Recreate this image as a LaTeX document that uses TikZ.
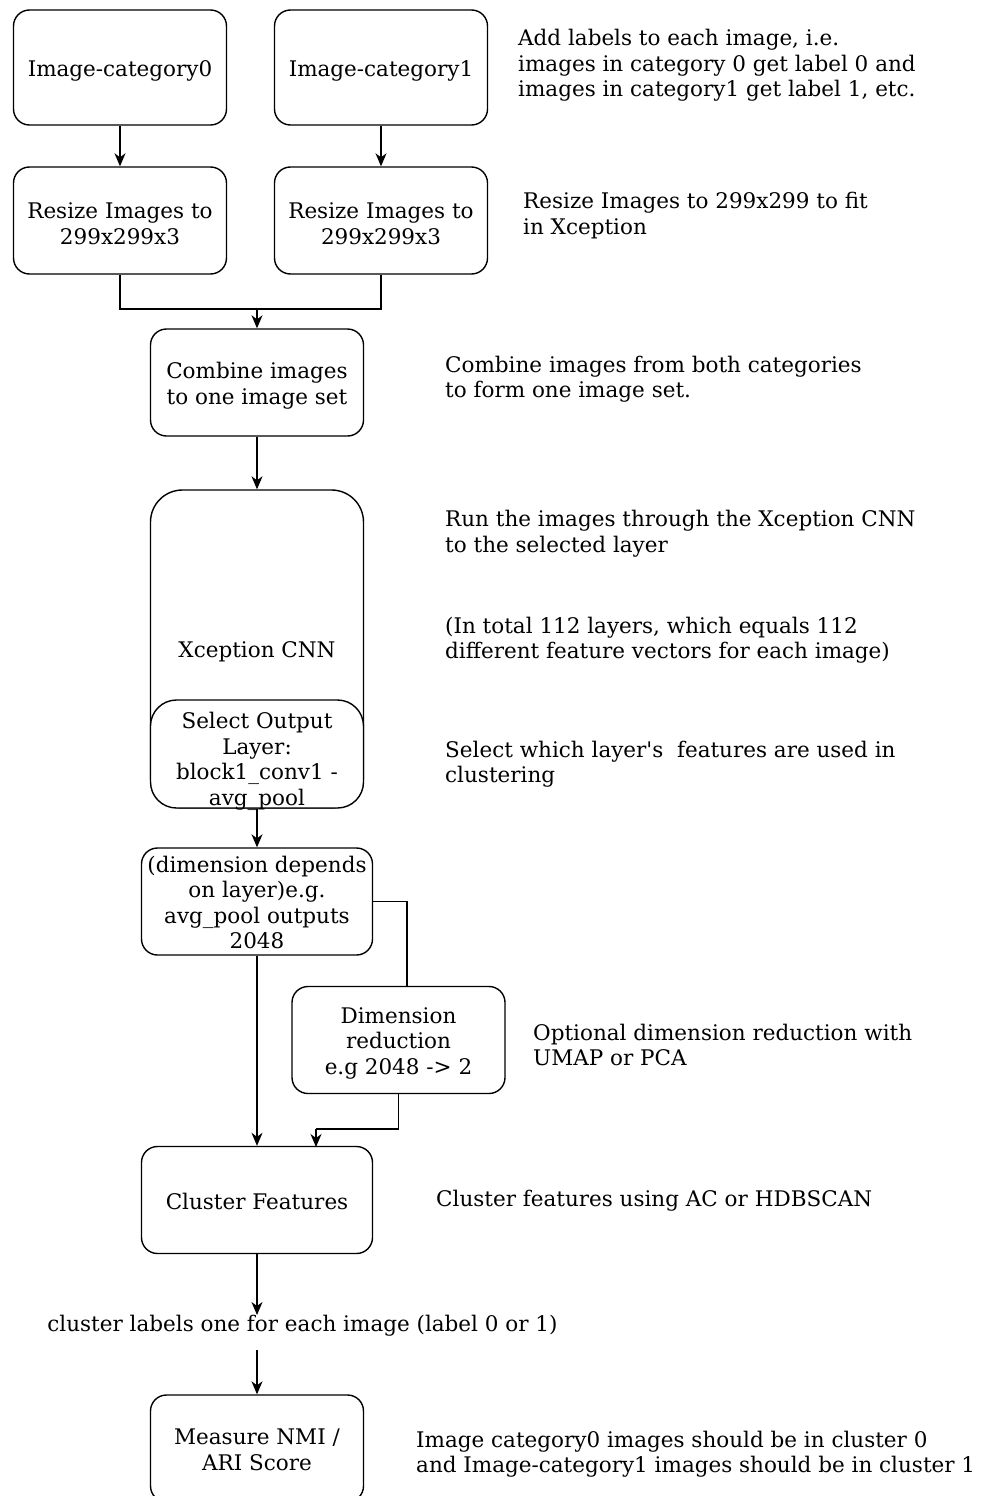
\documentclass[tikz,border=0pt]{standalone}
\usepackage{fontspec}
\setmainfont{DejaVu Serif}
\usetikzlibrary{arrows.meta,calc}
\begin{document}
\begin{tikzpicture}[x=1pt,y=-1pt,
  every node/.style={font=\fontsize{21.5}{25.5}\selectfont},
  box/.style={draw, line width=1.4pt, rounded corners=16pt, minimum width=213pt, minimum height=107pt, inner sep=0pt, fill=white},
  wbox/.style={box, minimum width=231pt},
  boxtext/.style={align=center, inner sep=0pt, yshift=-3pt},
  txt/.style={label={[boxtext]center:{#1}}},
  note/.style={align=left, anchor=west, inner sep=0pt},
  line/.style={line width=1.4pt},
  arr/.style={line, -{Stealth[length=13pt,width=11pt,inset=4pt]}}
]
\useasboundingbox (0,0) rectangle (984,1496);
\begin{scope}
\clip (0,0) rectangle (984,1496);
% boxes
\node[box, minimum height=115pt, txt={Image-category0}] (c0) at (120,67.5) {};
\node[box, minimum height=115pt, txt={Image-category1}] (c1) at (381,67.5) {};
\node[box, txt={Resize Images to\\299x299x3}] (r0) at (120,220.5) {};
\node[box, txt={Resize Images to\\299x299x3}] (r1) at (381,220.5) {};
\node[box, txt={Combine images\\to one image set}] (comb) at (257,382.5) {};
\node[box, rounded corners=32pt, minimum height=318pt, txt={Xception CNN}] (xc) at (257,649) {};
\node[box, rounded corners=26pt, minimum height=108pt, label={[boxtext, yshift=-4.5pt]center:{Select Output\\Layer:\\block1\_conv1 -\\avg\_pool}}] (sel) at (257,754) {};
\node[wbox, label={[boxtext, yshift=2pt]center:{(dimension depends\\on layer)e.g.\\avg\_pool outputs\\2048}}] (dim) at (257,901.5) {};
\node[box, txt={Dimension\\reduction\\e.g 2048 -> 2}] (red) at (398.5,1040) {};
\node[wbox, label={[boxtext, yshift=2pt]center:{Cluster Features}}] (clu) at (257,1200) {};
\node[inner sep=0pt] (lab) at (302.5,1326) {cluster labels one for each image (label 0 or 1)};
\node[box, label={[boxtext, yshift=1.5pt]center:{Measure NMI /\\ARI Score}}] (meas) at (257,1448.5) {};
\end{scope}
% coordinates
\coordinate (j1) at (257,309);
\coordinate (k2) at (407,987);
\coordinate (m1) at (316,1129);
\coordinate (m2) at (316,1147);
\coordinate (l1) at (257,1315);
\coordinate (l2) at (257,1350);
% connectors
\draw[arr] (c0) -- (r0);
\draw[arr] (c1) -- (r1);
\draw[line] (r0.south) |- (j1) -| (r1.south);
\draw[arr] (j1) -- (comb.north);
\draw[arr] (comb) -- (xc);
\draw[arr] (sel) -- (dim);
\draw[line] (dim.east |- 0,901.5) -| (k2);
\draw[arr] (dim) -- (clu);
\draw[line] (red.south) |- (m1);
\draw[arr] (m1) -- (m2);
\draw[arr] (clu.south) -- (l1);
\draw[arr] (l2) -- (meas.north);
% notes
\node[note] (n1) at (518,65.5) {Add labels to each image, i.e.\\images in category 0 get label 0 and\\images in category1 get label 1, etc.};
\node[note] (n2) at (523,215.5) {Resize Images to 299x299 to fit\\in Xception};
\node[note] (n3) at (445,379) {Combine images from both categories\\to form one image set.};
\node[note] (n4) at (445,533.5) {Run the images through the Xception CNN\\to the selected layer};
\node[note] (n5) at (445,640) {(In total 112 layers, which equals 112\\different feature vectors for each image)};
\node[note] (n6) at (445,764) {Select which layer\textquotesingle s\ \ features are used in\\clustering};
\node[note] (n7) at (533,1045) {Optional dimension reduction with\\UMAP or PCA};
\node[note] (n8) at (436,1200.5) {Cluster features using AC or HDBSCAN};
\node[note] (n9) at (416,1454) {Image category0 images should be in cluster 0\\and Image-category1 images should be in cluster 1};
\end{tikzpicture}
\end{document}
